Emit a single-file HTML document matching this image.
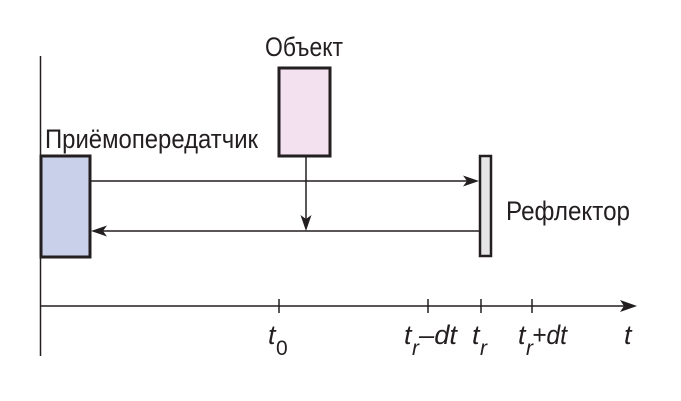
<!DOCTYPE html>
<html><head><meta charset="utf-8"><style>
html,body{margin:0;padding:0;background:#fff;}
svg{display:block;}
text{font-family:"Liberation Sans Narrow","Liberation Sans",sans-serif;fill:#231f20;}
.it{font-style:italic;}
</style></head><body>
<svg width="681" height="401" viewBox="0 0 681 401" xmlns="http://www.w3.org/2000/svg">
<g stroke="#231f20" fill="none">
<line x1="40.5" y1="56" x2="40.5" y2="356" stroke-width="1.5"/>
<line x1="40" y1="306" x2="625" y2="306" stroke-width="1.5"/>
<line x1="279" y1="299" x2="279" y2="313" stroke-width="1.5"/>
<line x1="428" y1="299" x2="428" y2="313" stroke-width="1.5"/>
<line x1="481" y1="299" x2="481" y2="313" stroke-width="1.5"/>
<line x1="532" y1="299" x2="532" y2="313" stroke-width="1.5"/>
<line x1="90" y1="181" x2="470" y2="181" stroke-width="1.5"/>
<line x1="100" y1="231" x2="479" y2="231" stroke-width="1.5"/>
<line x1="306" y1="156" x2="306" y2="222" stroke-width="1.5"/>
</g>
<g fill="#231f20">
<path d="M637,306 L620,300 L624,306 L620,312 Z"/>
<path d="M479,181 L463,175.5 L467,181 L463,186.5 Z"/>
<path d="M91,231 L107,225.5 L103,231 L107,236.5 Z"/>
<path d="M306,231 L300.5,215 L306,219 L311.5,215 Z"/>
</g>
<rect x="41" y="156" width="49" height="101" fill="#c8d0ea" stroke="#231f20" stroke-width="3"/>
<rect x="279" y="68" width="51" height="88" fill="#f3e1ef" stroke="#231f20" stroke-width="3"/>
<rect x="480" y="156" width="11" height="100" fill="#e6e6e6" stroke="#231f20" stroke-width="2.5"/>
<text x="265" y="56" font-size="27" textLength="78" lengthAdjust="spacingAndGlyphs">Объект</text>
<text x="45" y="148" font-size="27" textLength="213" lengthAdjust="spacingAndGlyphs">Приёмопередатчик</text>
<text x="506" y="220" font-size="27" textLength="124" lengthAdjust="spacingAndGlyphs">Рефлектор</text>
<g class="it" font-size="27">
<text x="268" y="344">t</text><text x="276" y="355" font-size="21" style="font-style:normal">0</text>
<text x="404" y="344">t</text><text x="412" y="355" font-size="21">r</text><text x="419" y="344" textLength="38" lengthAdjust="spacingAndGlyphs">–dt</text>
<text x="472" y="344">t</text><text x="480" y="355" font-size="21">r</text>
<text x="518" y="344">t</text><text x="526" y="355" font-size="21">r</text><text x="532" y="344" textLength="35" lengthAdjust="spacingAndGlyphs">+dt</text>
<text x="624" y="344">t</text>
</g>
</svg>
</body></html>
